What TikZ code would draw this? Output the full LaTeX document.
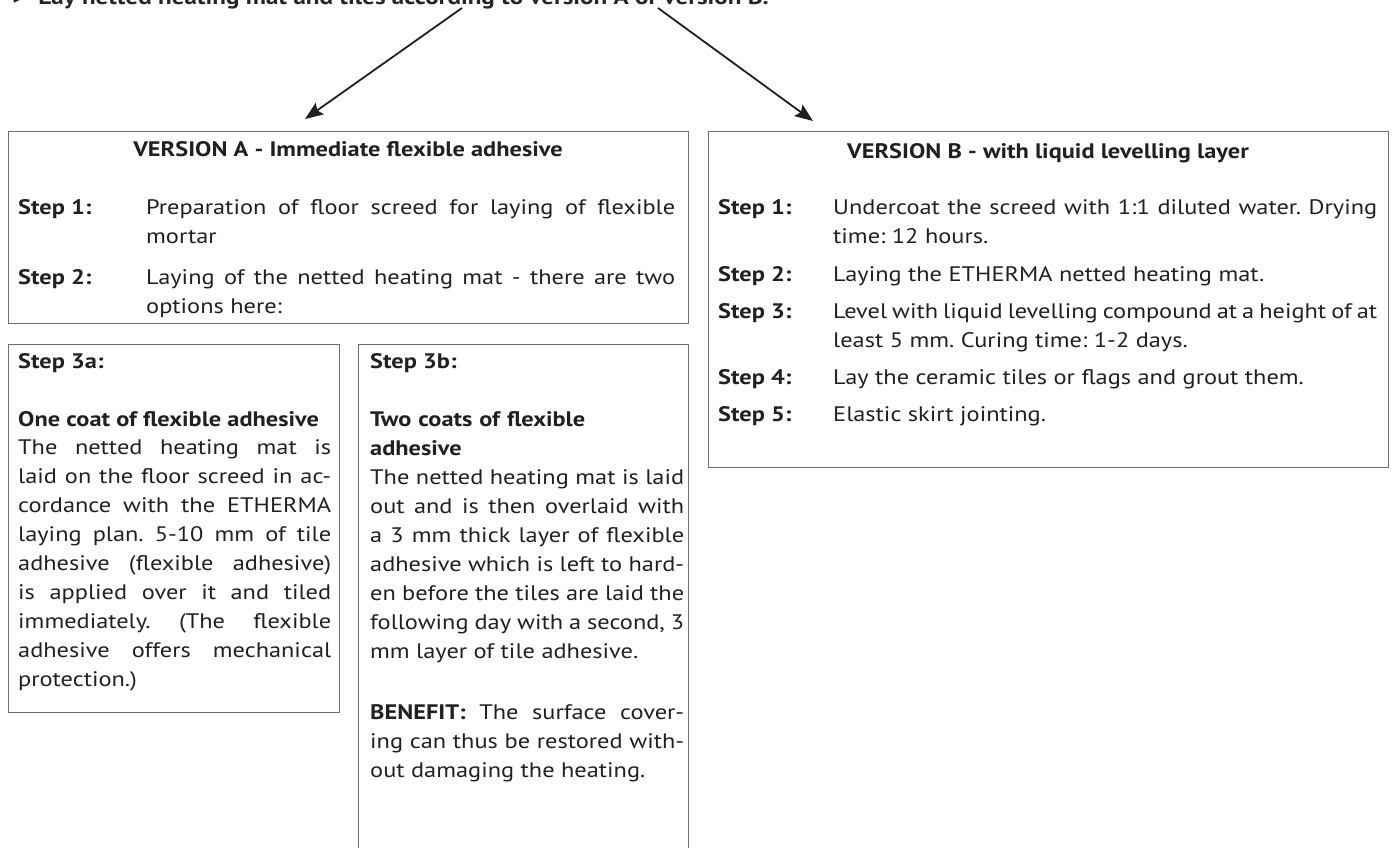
\documentclass[tikz,border=0pt]{standalone}
\usepackage{fontspec}
\setmainfont[FakeStretch=1.16]{PT Sans}
\usetikzlibrary{arrows.meta,positioning}

\definecolor{inkgray}{HTML}{231F20}
\definecolor{framegray}{HTML}{6E6E6E}

\newcommand\bodysize{\fontsize{21}{29}\selectfont\frenchspacing}
\newcommand\headsize{\fontsize{21}{29}\selectfont\frenchspacing\bfseries}

\begin{document}
\begin{tikzpicture}[x=1pt, y=-1pt, color=inkgray,
  panel/.style={draw=framegray, line width=1.2pt, anchor=north west, inner sep=0pt},
  headline/.style={anchor=base, inner sep=0pt, font=\headsize},
  steplabel/.style={anchor=base west, inner sep=0pt, font=\headsize},
  steptext/.style={anchor=north west, inner sep=0pt, text width=#1, align=justify, font=\bodysize},
  arrowline/.style={line width=1.8pt, -{Stealth[length=18pt,width=14pt,inset=3pt]}},
]
\useasboundingbox (0,0) rectangle (1395,848);
\clip (0,0) rectangle (1395,848);

\def\up{20.3}

% intro line, cut at the top
\node[anchor=base west, inner sep=0pt, font=\fontsize{21.6}{29}\selectfont\bfseries, text=black!85] (intro) at (12,5)
  {>\hspace{13pt}Lay netted heating mat and tiles according to version A or version B.};
\coordinate (startA) at (462,8);
\coordinate (startB) at (658,8);
\coordinate (tipA) at (305,119);
\coordinate (tipB) at (813,121);
\draw[arrowline] (startA) -- (tipA);
\draw[arrowline] (startB) -- (tipB);

% version A
\node[panel, minimum width=680pt, minimum height=192pt] (boxA) at (8,131) {};
\node[headline] (titleA) at (348,157) {VERSION A - Immediate flexible adhesive};
\node[steplabel] (labA1) at (18,214) {Step 1:};
\node[steptext=529pt] (txtA1) at (146,214-\up)
  {\strut Preparation of floor screed for laying of flexible\linebreak mortar};
\node[steplabel] (labA2) at (18,284) {Step 2:};
\node[steptext=529pt] (txtA2) at (146,284-\up)
  {\strut Laying of the netted heating mat - there are two\linebreak options here:};

% option 3a
\node[panel, minimum width=331pt, minimum height=368pt] (boxSa) at (8,344) {};
\node[steplabel] (labSa) at (18,368) {Step 3a:};
\node[steplabel] (headSa) at (18,426) {One coat of flexible adhesive};
\node[steptext=313pt] (txtSa) at (18,454-\up)
  {\strut The netted heating mat is\linebreak
   laid on the floor screed in ac-\linebreak
   cordance with the ETHERMA\linebreak
   laying plan. 5-10 mm of tile\linebreak
   adhesive (flexible adhesive)\linebreak
   is applied over it and tiled\linebreak
   immediately. (The flexible\linebreak
   adhesive offers mechanical\linebreak
   protection.)};

% option 3b
\node[panel, minimum width=330pt, minimum height=520pt] (boxSb) at (358,344) {};
\node[steplabel] (labSb) at (370,368) {Step 3b:};
\node[steptext=314pt, font=\headsize, align=left] (headSb) at (370,426-\up)
  {\strut Two coats of flexible\\adhesive};
\node[steptext=314pt] (txtSb) at (370,484-\up)
  {\strut The netted heating mat is laid\linebreak
   out and is then overlaid with\linebreak
   a 3 mm thick layer of flexible\linebreak
   adhesive which is left to hard-\linebreak
   en before the tiles are laid the\linebreak
   following day with a second, 3\linebreak
   mm layer of tile adhesive.};
\node[steptext=314pt] (benSb) at (370,719-\up)
  {\strut\textbf{BENEFIT:} The surface cover-\linebreak
   ing can thus be restored with-\linebreak
   out damaging the heating.};

% version B
\node[panel, minimum width=680pt, minimum height=336pt] (boxB) at (708,131) {};
\node[headline] (titleB) at (1048,158) {VERSION B - with liquid levelling layer};
\node[steplabel] (labB1) at (718,214) {Step 1:};
\node[steptext=544pt] (txtB1) at (833,214-\up)
  {\strut Undercoat the screed with 1:1 diluted water. Drying\linebreak time: 12 hours.};
\node[steplabel] (labB2) at (718,281) {Step 2:};
\node[steptext=544pt] (txtB2) at (833,281-\up)
  {\strut Laying the ETHERMA netted heating mat.};
\node[steplabel] (labB3) at (718,318) {Step 3:};
\node[steptext=544pt] (txtB3) at (833,318-\up)
  {\strut Level with liquid levelling compound at a height of at\linebreak least 5 mm. Curing time: 1-2 days.};
\node[steplabel] (labB4) at (718,384) {Step 4:};
\node[steptext=544pt] (txtB4) at (833,384-\up)
  {\strut Lay the ceramic tiles or flags and grout them.};
\node[steplabel] (labB5) at (718,421) {Step 5:};
\node[steptext=544pt] (txtB5) at (833,421-\up)
  {\strut Elastic skirt jointing.};

\end{tikzpicture}
\end{document}
